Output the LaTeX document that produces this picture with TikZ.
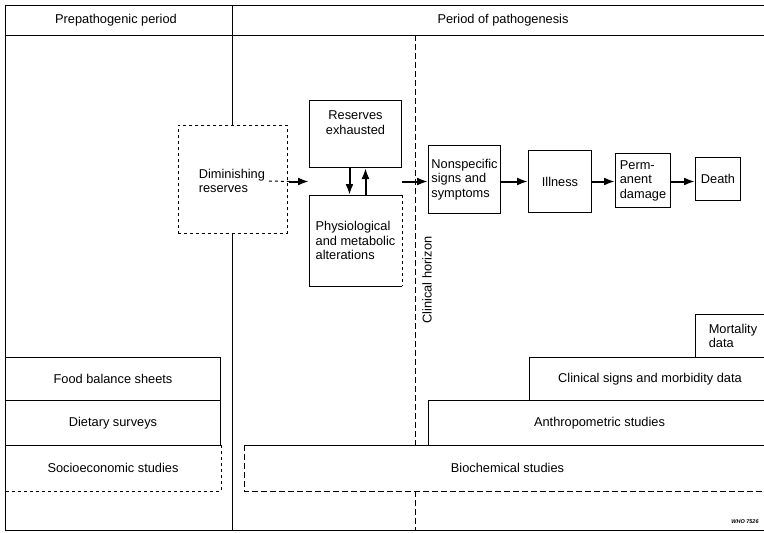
\documentclass[tikz,border=0pt]{standalone}
\usepackage{fontspec}
\setmainfont{Liberation Sans}
\usetikzlibrary{calc,arrows,arrows.meta,positioning}

\begin{document}
\begin{tikzpicture}[
  x=1pt, y=-1pt,
  line width=1pt,
  font=\fontsize{12.8}{14.5}\selectfont,
  mybox/.style={
    draw,
    rectangle,
    anchor=north west,
    align=center,
    inner sep=2pt
    },
  myopen/.style={mybox, draw=none},
  myarrow/.style={-{Latex[length=11pt,width=8pt]}, line width=2pt}
]
\useasboundingbox (0,0) rectangle (764,533);

% frame and header
\coordinate (tl) at (5,5);
\coordinate (tr) at (770,5);
\coordinate (bl) at (5,530);
\coordinate (br) at (770,530);
\coordinate (hl) at (5,35);
\coordinate (hr) at (770,35);
\draw (tr) -- (tl) -- (bl) -- (br);
\draw (hl) -- (hr);
\node (pre) at (116,20) {Prepathogenic period};
\node (path) at (503,20) {Period of pathogenesis};

% measurement methods
\node [mybox, minimum width=215pt, minimum height=43pt] (food) at (5,357) {Food balance sheets};
\node [mybox, minimum width=215pt, minimum height=45pt] (diet) at (5,400) {Dietary surveys};
\node [myopen, minimum width=215pt, minimum height=45pt] (socio) at (5,445) {Socioeconomic studies};
\draw (socio.south west) -- (socio.north west) -- (socio.north east);
\draw [dashed, line width=0.6pt] (socio.north east) -- (socio.south east) -- (socio.south west);

\node [mybox, minimum width=75pt, minimum height=43pt, align=left] (mort) at (695,314) {Mortality\\data};
\node [mybox, minimum width=241pt, minimum height=43pt] (clin) at (529,357) {Clinical signs and morbidity data};
\node [mybox, minimum width=342pt, minimum height=45pt] (anth) at (428,400) {Anthropometric studies};
\node [myopen, fill=white, minimum width=526pt, minimum height=45pt] (bio) at (244,445) {Biochemical studies};
\draw (bio.north west) -- (bio.north east);
\draw [dashed, dash pattern=on 6pt off 3pt] (bio.north west) -- (bio.south west) -- (bio.south east);

% upper chain
\node [mybox, dashed, line width=0.6pt, minimum width=109pt, minimum height=108pt] (dim) at (178,125) {};
\node [anchor=west, align=left] (dimtext) at (195,181) {Diminishing\\reserves};
\draw (dim.north |- tl) -- (dim.north);
\draw (dim.south) -- (dim.south |- bl);

\node [mybox, minimum width=92pt, minimum height=67pt,
  label={[align=center, anchor=north, yshift=-7pt]north:Reserves\\exhausted}] (res) at (309,100) {};
\node [myopen, minimum width=92pt, minimum height=90pt, align=left] (phys) at (309,195) {Physiological\\and metabolic\\alterations};
\draw (phys.north east) -- (phys.north west) -- (phys.south west) -- (phys.south east);
\draw [dashed] (phys.north east) -- (phys.south east);

\node [mybox, minimum width=72pt, minimum height=68pt, align=left] (nons) at (428,145) {Nonspecific\\signs and\\symptoms};
\node [mybox, minimum width=63pt, minimum height=62pt] (ill) at (528,150) {Illness};
\node [mybox, minimum width=55pt, minimum height=54pt, align=left] (perm) at (615,153) {Perm-\\anent\\damage};
\node [mybox, minimum width=45pt, minimum height=43pt] (death) at (695,157) {Death};

\coordinate (gapl) at ($(res.south west)!0.5!(phys.north west)$);
\coordinate (gapr) at ($(res.south east)!0.5!(phys.north east)$);
\draw [dashed] (dimtext.east) -- ([xshift=-18pt]gapl);
\draw [myarrow] ([xshift=-20pt]gapl) -- (gapl);
\draw [myarrow] ([xshift=-6pt]res.south) -- ([xshift=-6pt]phys.north);
\draw [myarrow] ([xshift=10pt]phys.north) -- ([xshift=10pt]res.south);
\draw [myarrow] (gapr) -- (gapr -| nons.west);
\draw [myarrow] (nons.east |- gapr) -- (ill.west |- gapr);
\draw [myarrow] (ill.east |- gapr) -- (perm.west |- gapr);
\draw [myarrow] (perm.east |- gapr) -- (death.west |- gapr);

% clinical horizon
\coordinate (hzt) at (415,35);
\coordinate (hzb) at (415,530);
\draw [dashed, dash pattern=on 6pt off 3pt] (hzt) -- (hzt |- bio.north);
\draw [dashed, dash pattern=on 6pt off 3pt] (hzt |- bio.south) -- (hzb);
\node [rotate=90] (hz) at (427,280) {Clinical horizon};

\node [font=\fontsize{5.5}{6}\selectfont\itshape\bfseries] (who) at (745,522) {WHO 7526};
\end{tikzpicture}
\end{document}
